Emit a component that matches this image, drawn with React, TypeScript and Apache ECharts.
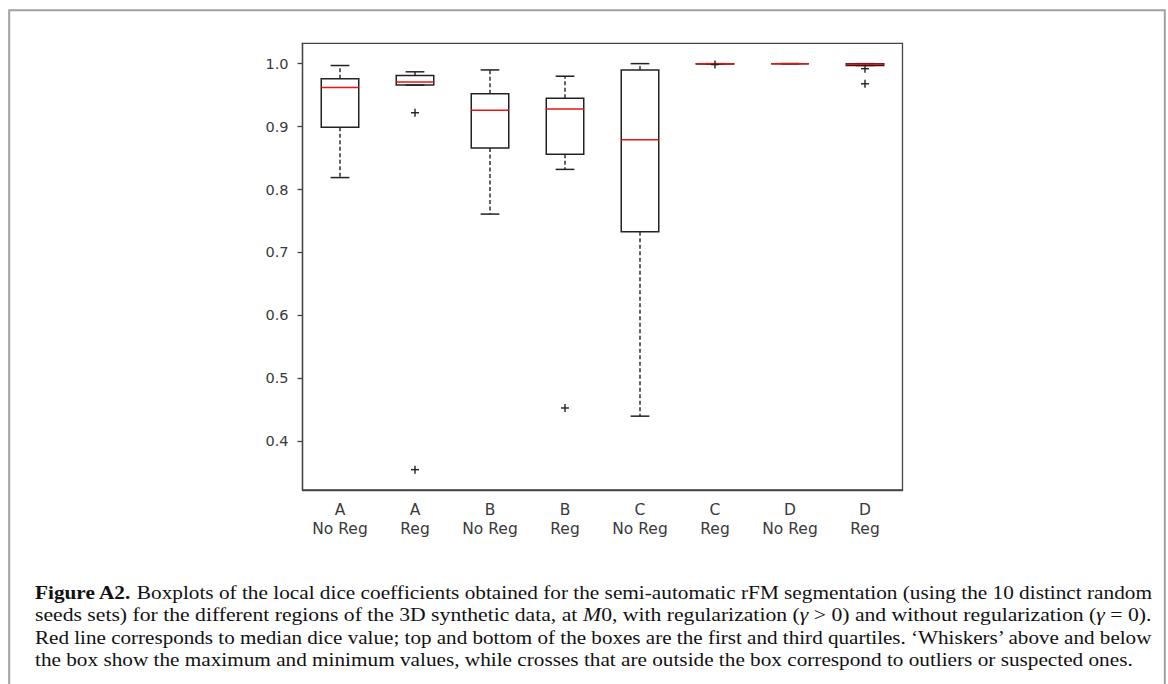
import React, { useEffect, useRef } from "react";
import * as echarts from "echarts";

const categories = ["A\nNo Reg", "A\nReg", "B\nNo Reg", "B\nReg", "C\nNo Reg", "C\nReg", "D\nNo Reg", "D\nReg"];
const whiskerLow = [0.819, 0.966, 0.761, 0.832, 0.44, 0.9995, 1.0, 0.997];
const q1Values = [0.899, 0.966, 0.866, 0.856, 0.733, 0.9995, 1.0, 0.997];
const medians = [0.962, 0.971, 0.926, 0.928, 0.879, 1.0, 1.0, 0.999];
const q3Values = [0.976, 0.981, 0.952, 0.945, 0.99, 1.0, 1.0, 1.0];
const whiskerHigh = [0.997, 0.987, 0.99, 0.98, 1.0, 1.0, 1.0, 1.0];
const outlierCategory = [1, 1, 3, 5, 7, 7];
const outlierValues = [0.922, 0.355, 0.453, 0.9985, 0.992, 0.968];
const yTicks = [0.4, 0.5, 0.6, 0.7, 0.8, 0.9, 1.0];

type Seg = { t: string; s: "n" | "b" | "i" };
const captionLines: Seg[][] = [
  [
    { t: "Figure A2.", s: "b" },
    { t: " Boxplots of the local dice coefficients obtained for the semi-automatic rFM segmentation (using the 10 distinct random", s: "n" },
  ],
  [
    { t: "seeds sets) for the different regions of the 3D synthetic data, at ", s: "n" },
    { t: "M", s: "i" },
    { t: "0, with regularization (", s: "n" },
    { t: "γ", s: "i" },
    { t: " > 0) and without regularization (", s: "n" },
    { t: "γ", s: "i" },
    { t: " = 0).", s: "n" },
  ],
  [
    { t: "Red line corresponds to median dice value; top and bottom of the boxes are the first and third quartiles. ‘Whiskers’ above and below", s: "n" },
  ],
  [
    { t: "the box show the maximum and minimum values, while crosses that are outside the box correspond to outliers or suspected ones.", s: "n" },
  ],
];
const captionWidths = [1118, 1116, 1119, 1098];
const captionY = [593, 615, 637, 659];

const SERIF = "'Liberation Serif', 'Times New Roman', serif";
const CAP_SIZE = 18.5;

export default function App() {
  const ref = useRef<HTMLDivElement>(null);
  useEffect(() => {
    if (!ref.current) return;
    const chart = echarts.init(ref.current, undefined, { renderer: "svg" });

    const canvas = document.createElement("canvas");
    const ctx = canvas.getContext("2d")!;
    const fontFor = (s: string) =>
      (s === "b" ? "bold " : s === "i" ? "italic " : "") + CAP_SIZE + "px " + SERIF;

    const captionGraphics = captionLines.map((segs, li) => {
      let w = 0;
      segs.forEach((sg) => {
        ctx.font = fontFor(sg.s);
        w += ctx.measureText(sg.t).width;
      });
      const scaleX = captionWidths[li] / w;
      const text = segs.map((sg) => (sg.s === "n" ? sg.t : "{" + sg.s + "|" + sg.t + "}")).join("");
      return {
        type: "text",
        x: 35,
        y: captionY[li],
        scaleX,
        style: {
          text,
          fill: "#111",
          fontFamily: SERIF,
          fontSize: CAP_SIZE,
          verticalAlign: "middle",
          align: "left",
          rich: {
            b: { fontWeight: "bold", fontFamily: SERIF, fontSize: CAP_SIZE, fill: "#111" },
            i: { fontStyle: "italic", fontFamily: SERIF, fontSize: CAP_SIZE, fill: "#111" },
          },
        },
        silent: true,
      };
    });

    const boxData = categories.map((_, i) => [i, whiskerLow[i], q1Values[i], medians[i], q3Values[i], whiskerHigh[i]]);
    const outlierData = outlierValues.map((v, i) => [outlierCategory[i], v]);
    const ink = "#222";

    chart.setOption({
      animation: false,
      grid: {
        left: 302.5,
        top: 43.3,
        right: 1168 - 902.5,
        bottom: 684 - 490,
        show: true,
        borderColor: "#444",
        borderWidth: 1.3,
        backgroundColor: "transparent",
      },
      xAxis: {
        type: "category",
        data: categories,
        boundaryGap: true,
        axisLine: { lineStyle: { color: "#444", width: 1.3 } },
        axisTick: { alignWithLabel: true, length: 5, lineStyle: { color: "#444", width: 1.3 } },
        axisLabel: {
          interval: 0,
          margin: 10,
          fontFamily: "'DejaVu Sans', sans-serif",
          fontSize: 15.5,
          lineHeight: 19,
          color: "#3a3a3a",
        },
        splitLine: { show: false },
      },
      yAxis: {
        type: "value",
        min: 0.3227,
        max: 1.0323,
        axisLine: { show: true, lineStyle: { color: "#444", width: 1.3 } },
        axisTick: { show: true, length: 5, customValues: yTicks, lineStyle: { color: "#444", width: 1.3 } },
        axisLabel: {
          margin: 14,
          customValues: yTicks,
          formatter: (v: number) => v.toFixed(1),
          fontFamily: "'DejaVu Sans', sans-serif",
          fontSize: 14.5,
          color: "#3a3a3a",
        },
        splitLine: { show: false },
      },
      graphic: [
        {
          type: "rect",
          shape: { x: 9.2, y: 10.2, width: 1155.6, height: 690 },
          style: { fill: "none", stroke: "#a0a0a0", lineWidth: 2 },
          silent: true,
        },
        ...captionGraphics,
      ],
      series: [
        {
          type: "custom",
          data: boxData,
          encode: { x: 0, y: [1, 2, 3, 4, 5] },
          renderItem: (params: any, api: any) => {
            const i = api.value(0);
            const lo = api.coord([i, api.value(1)]);
            const q1 = api.coord([i, api.value(2)]);
            const med = api.coord([i, api.value(3)]);
            const q3 = api.coord([i, api.value(4)]);
            const hi = api.coord([i, api.value(5)]);
            const band = api.size([1, 0])[0];
            const bw = band * 0.5;
            const cw = bw * 0.5;
            const cx = q1[0];
            const dash = { stroke: ink, lineWidth: 1.4, lineDash: [4, 2.5] };
            const solid = { stroke: ink, lineWidth: 1.5 };
            return {
              type: "group",
              children: [
                { type: "line", shape: { x1: cx, y1: q1[1], x2: cx, y2: lo[1] }, style: dash },
                { type: "line", shape: { x1: cx, y1: q3[1], x2: cx, y2: hi[1] }, style: dash },
                { type: "line", shape: { x1: cx - cw / 2, y1: lo[1], x2: cx + cw / 2, y2: lo[1] }, style: solid },
                { type: "line", shape: { x1: cx - cw / 2, y1: hi[1], x2: cx + cw / 2, y2: hi[1] }, style: solid },
                {
                  type: "rect",
                  shape: { x: cx - bw / 2, y: q3[1], width: bw, height: q1[1] - q3[1] },
                  style: { fill: "none", stroke: ink, lineWidth: 1.5 },
                },
                {
                  type: "line",
                  shape: { x1: cx - bw / 2, y1: med[1], x2: cx + bw / 2, y2: med[1] },
                  style: { stroke: "#ee1111", lineWidth: 1.5 },
                },
              ],
            };
          },
          silent: true,
          z: 2,
        },
        {
          type: "custom",
          data: outlierData,
          encode: { x: 0, y: 1 },
          renderItem: (params: any, api: any) => {
            const p = api.coord([api.value(0), api.value(1)]);
            const h = 4;
            const st = { stroke: ink, lineWidth: 1.4 };
            return {
              type: "group",
              children: [
                { type: "line", shape: { x1: p[0] - h, y1: p[1], x2: p[0] + h, y2: p[1] }, style: st },
                { type: "line", shape: { x1: p[0], y1: p[1] - h, x2: p[0], y2: p[1] + h }, style: st },
              ],
            };
          },
          silent: true,
          z: 3,
        },
      ],
    });
    return () => chart.dispose();
  }, []);
  return (
    <div
      ref={ref}
      style={{ position: "fixed", left: 0, top: 0, width: 1168, height: 684, background: "#fff" }}
    />
  );
}
